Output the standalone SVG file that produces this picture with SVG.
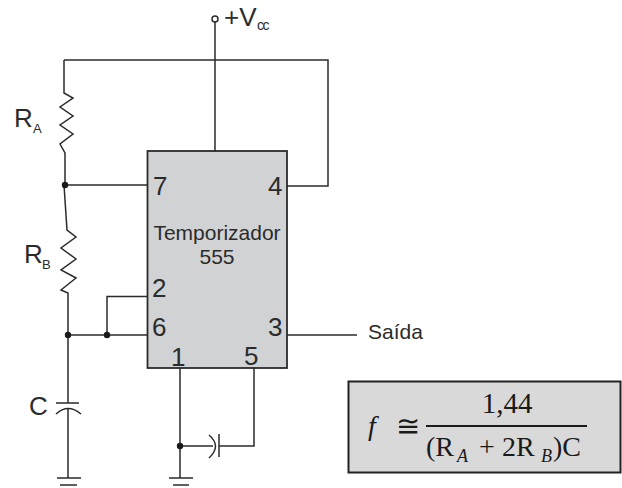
<svg xmlns="http://www.w3.org/2000/svg" width="622" height="488" viewBox="0 0 622 488">
<style>
.w{fill:none;stroke:#2b2b2b;stroke-width:1.500}
.t{font-family:"Liberation Sans",Arial,sans-serif;fill:#2b2b2b}
.p{font-size:26px}
.m{font-family:"Liberation Serif","Times New Roman",serif;fill:#1a1a1a}
.d{fill:#1a1a1a}
</style>
<rect width="622" height="488" fill="#fff"/>
<g id="ic555">
<rect x="147.500" y="151" width="139.500" height="217" fill="#d1d2d4" stroke="#2b2b2b" stroke-width="1.800"/>
<text class="t p" x="153" y="195">7</text>
<text class="t p" x="268" y="195">4</text>
<text class="t p" x="152" y="297">2</text>
<text class="t p" x="152" y="336">6</text>
<text class="t p" x="268" y="336">3</text>
<text class="t p" x="171" y="366">1</text>
<text class="t p" x="244" y="365">5</text>
<text class="t" x="217" y="240" font-size="21" text-anchor="middle">Temporizador</text>
<text class="t" x="217" y="264" font-size="21" text-anchor="middle">555</text>
</g>
<g id="connectors">
<path class="w" d="M215 21V151M64 60H328V186H287M64 60V93L73 98 60 107 73 116 60 125 73 134 60 144 65 153V185M64 185H147.500M64 185L67 230 76 237 61 248 76 259 61 270 76 278 61 290 68 293V403M68 408V478M68 335H147.500M107 335V296.500H147.500M287 335H357M180 368V478M254 368V446H219M180 446H213"/>
<path class="w" d="M56 403H79M56 414Q68 403 81 414M57 478H81M60 485H77M169 478H193M173 485H189"/>
<path class="w" d="M209 435Q222 446 209 458M219 434V457"/>
<circle cx="215" cy="19" r="3" fill="#fff" stroke="#2b2b2b" stroke-width="1.500"/>
<circle class="d" cx="65" cy="185" r="3.200"/>
<circle class="d" cx="68" cy="335" r="3.200"/>
<circle class="d" cx="107" cy="335" r="3.200"/>
<circle class="d" cx="180" cy="446" r="3.200"/>
</g>
<g id="labels">
<text class="t" x="224" y="26" font-size="26">+V</text>
<text class="t" x="257" y="30" font-size="14" letter-spacing="-1.500">cc</text>
<text class="t" x="14" y="127" font-size="26">R</text>
<text class="t" x="33" y="133" font-size="13">A</text>
<text class="t" x="24" y="263" font-size="26">R</text>
<text class="t" x="42" y="269" font-size="13">B</text>
<text class="t" x="29" y="415" font-size="26">C</text>
<text class="t" x="368" y="339" font-size="21">Saída</text>
</g>
<g id="formula">
<rect x="348.500" y="381.500" width="272" height="91" fill="#d9d9d9" stroke="#222" stroke-width="2"/>
<text class="m" x="368" y="435" font-size="28" font-style="italic">f</text>
<text class="m" x="396" y="436" font-size="29">≅</text>
<text class="m" x="507" y="413" font-size="29" text-anchor="middle">1,44</text>
<line x1="426" y1="426" x2="587" y2="426" stroke="#1a1a1a" stroke-width="1.800"/>
<text class="m" x="426" y="456" font-size="28">(R</text>
<text class="m" x="457" y="462" font-size="18" font-style="italic">A</text>
<text class="m" x="479" y="456" font-size="28">+</text>
<text class="m" x="502" y="456" font-size="28">2R</text>
<text class="m" x="541" y="462" font-size="18" font-style="italic">B</text>
<text class="m" x="553" y="456" font-size="28">)C</text>
</g>
</svg>
